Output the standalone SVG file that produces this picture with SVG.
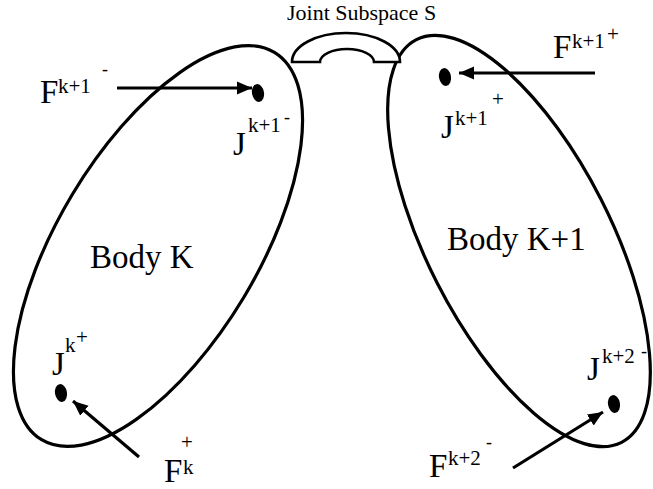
<svg xmlns="http://www.w3.org/2000/svg" width="653" height="489" viewBox="0 0 653 489">
<style>
.body{fill:none;stroke:#000;stroke-width:3.2}
text{font-family:"Liberation Serif","DejaVu Serif","Times New Roman",Times,serif;fill:#000}
.big{font-size:33px}
.sup{font-size:21px}
.dash{font-size:18px}
.arr{stroke:#000;stroke-width:3.2;fill:none}
.dot{fill:#000}
</style>
<defs>
<marker id="ah" markerUnits="userSpaceOnUse" markerWidth="16" markerHeight="14" refX="15" refY="7" orient="auto">
<path d="M0,0.5 L15,7 L0,13.5 z" fill="#000"/>
</marker>
</defs>
<rect width="653" height="489" fill="#fff"/>
<g id="bodyK">
<ellipse class="body" cx="158" cy="246" rx="226" ry="100" transform="rotate(-59 158 246)"/>
<text class="big" x="90" y="268">Body K</text>
</g>
<g id="bodyK1">
<ellipse class="body" cx="519" cy="241" rx="226" ry="92" transform="rotate(63 519 241)"/>
<text class="big" x="447" y="250">Body K+1</text>
</g>
<g id="joint">
<path d="M292,62 A54,29 0 0 1 400,62 L374,62 A27,13 0 0 0 320,62 Z" fill="#fff" stroke="#000" stroke-width="2.6"/>
<text x="287" y="20" style="font-size:22px">Joint Subspace S</text>
</g>
<g id="Jk1minus">
<ellipse class="dot" cx="258" cy="93" rx="6" ry="9" transform="rotate(-10 258 93)"/>
<text class="big" x="233" y="155">J</text>
<text class="sup" x="248" y="132">k+1</text>
<text class="dash" x="284" y="123">-</text>
</g>
<g id="Jk1plus">
<ellipse class="dot" cx="445" cy="77" rx="6" ry="9" transform="rotate(-10 445 77)"/>
<text class="big" x="441" y="138">J</text>
<text class="sup" x="455" y="125">k+1</text>
<text class="sup" x="492" y="106">+</text>
</g>
<g id="Jkplus">
<ellipse class="dot" cx="61" cy="393" rx="6" ry="9" transform="rotate(-10 61 393)"/>
<text class="big" x="52" y="375">J</text>
<text class="sup" x="65" y="352">k</text>
<text class="sup" x="76" y="344">+</text>
</g>
<g id="Jk2minus">
<ellipse class="dot" cx="614" cy="404" rx="6" ry="9" transform="rotate(-10 614 404)"/>
<text class="big" x="587" y="380">J</text>
<text class="sup" x="602" y="363">k+2</text>
<text class="dash" x="641" y="357">-</text>
</g>
<g id="Fk1minus">
<text class="big" x="40" y="103">F</text>
<text class="sup" x="58" y="93">k+1</text>
<text class="dash" x="102" y="75">-</text>
</g>
<g id="Fk1plus">
<text class="big" x="553" y="58">F</text>
<text class="sup" x="572" y="48">k+1</text>
<text class="sup" x="607" y="41">+</text>
</g>
<g id="Fkplus">
<text class="big" x="164" y="482">F</text>
<text class="sup" x="183" y="474">k</text>
<text class="sup" x="181" y="449">+</text>
</g>
<g id="Fk2minus">
<text class="big" x="429" y="477">F</text>
<text class="sup" x="448" y="465">k+2</text>
<text class="dash" x="486" y="448">-</text>
</g>
<g id="connectors">
<line class="arr" x1="117" y1="88" x2="252" y2="88" marker-end="url(#ah)"/>
<line class="arr" x1="595" y1="73" x2="459" y2="73" marker-end="url(#ah)"/>
<line class="arr" x1="139" y1="457" x2="73" y2="401" marker-end="url(#ah)"/>
<line class="arr" x1="513" y1="468" x2="603" y2="412" marker-end="url(#ah)"/>
</g>
</svg>
